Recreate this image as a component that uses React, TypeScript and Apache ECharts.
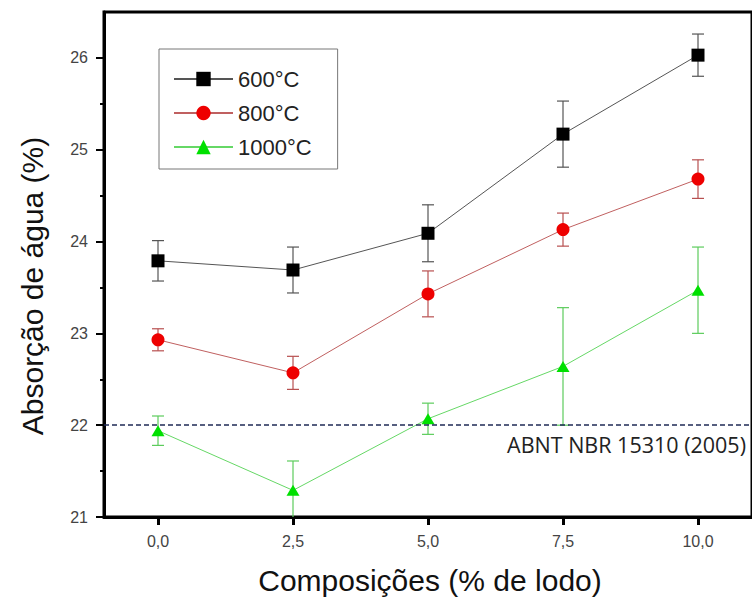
import React, { useEffect, useRef } from "react";
import * as echarts from "echarts";

// ---- data ----
const compositions = [0, 2.5, 5, 7.5, 10];
const xTickValues = [0, 2.5, 5, 7.5, 10];
const yTickValues = [21, 22, 23, 24, 25, 26];
const yMinorTickValues = [21.5, 22.5, 23.5, 24.5, 25.5];

const seriesNames = ["600°C", "800°C", "1000°C"];
const abs600 = [23.79, 23.69, 24.09, 25.17, 26.03];
const err600 = [0.22, 0.25, 0.31, 0.36, 0.23];
const abs800 = [22.93, 22.57, 23.43, 24.13, 24.68];
const err800 = [0.12, 0.18, 0.25, 0.18, 0.21];
const abs1000 = [21.94, 21.29, 22.07, 22.64, 23.47];
const err1000 = [0.16, 0.32, 0.17, 0.64, 0.47];

const normValue = 22;
const normLabel = "ABNT NBR 15310 (2005)";
const xAxisTitle = "Composições (% de lodo)";
const yAxisTitle = "Absorção de água (%)";

const FONT = "'Liberation Sans', Arial, sans-serif";

function lineSeries(name: string, values: number[], symbol: string, size: any, markerColor: string, lineColor: string, extra: any = {}) {
  return {
    type: "line",
    name,
    data: compositions.map((x, i) => [x, values[i]]),
    symbol,
    symbolSize: size,
    showAllSymbol: true,
    itemStyle: { color: markerColor, opacity: 1 },
    lineStyle: { color: lineColor, width: 1 },
    z: 3,
    ...extra,
  };
}

function errorSeries(name: string, values: number[], errs: number[], color: string) {
  return {
    type: "custom",
    name: name + " erro",
    data: compositions.map((x, i) => [x, values[i] - errs[i], values[i] + errs[i]]),
    encode: { x: 0, y: [1, 2] },
    clip: true,
    z: 1,
    renderItem: (params: any, api: any) => {
      const x = api.value(0);
      const lo = api.coord([x, api.value(1)]);
      const hi = api.coord([x, api.value(2)]);
      const w = 6;
      const style = { stroke: color, lineWidth: 1.2 };
      return {
        type: "group",
        children: [
          { type: "line", shape: { x1: lo[0], y1: lo[1], x2: hi[0], y2: hi[1] }, style },
          { type: "line", shape: { x1: hi[0] - w, y1: hi[1], x2: hi[0] + w, y2: hi[1] }, style },
          { type: "line", shape: { x1: lo[0] - w, y1: lo[1], x2: lo[0] + w, y2: lo[1] }, style },
        ],
      };
    },
  };
}

export default function App() {
  const ref = useRef<HTMLDivElement>(null);
  useEffect(() => {
    if (!ref.current) return;
    const chart = echarts.init(ref.current, null, { renderer: "svg" });
    chart.setOption({
      animation: false,
      backgroundColor: "#fff",
      grid: {
        left: 104,
        right: -11,
        top: 12,
        bottom: 81,
        show: true,
        borderColor: "#000",
        borderWidth: 3,
        backgroundColor: "transparent",
        containLabel: false,
      },
      legend: {
        data: seriesNames,
        orient: "vertical",
        left: 159,
        top: 49,
        padding: [19, 26, 11, 14],
        itemWidth: 59,
        itemHeight: 18,
        itemGap: 12,
        borderColor: "#777",
        borderWidth: 1,
        textStyle: { fontSize: 22, fontFamily: FONT, color: "#222" },
      },
      xAxis: {
        type: "value",
        min: -1,
        max: 11,
        axisLine: { show: true, onZero: false, lineStyle: { color: "#000", width: 3 } },
        axisTick: { show: true, customValues: xTickValues, length: 8, lineStyle: { color: "#000", width: 3 } },
        axisLabel: {
          customValues: xTickValues,
          margin: 16,
          fontSize: 16,
          fontFamily: FONT,
          color: "#444",
          formatter: (v: number) => v.toFixed(1).replace(".", ","),
        },
        splitLine: { show: false },
      },
      yAxis: [
        {
          type: "value",
          min: 21,
          max: 26.5,
          axisLine: { show: true, onZero: false, lineStyle: { color: "#000", width: 3 } },
          axisTick: { show: true, customValues: yTickValues, length: 8, lineStyle: { color: "#000", width: 2 } },
          axisLabel: {
            customValues: yTickValues,
            margin: 16,
            fontSize: 16,
            fontFamily: FONT,
            color: "#444",
          },
          splitLine: { show: false },
        },
        {
          type: "value",
          min: 21,
          max: 26.5,
          position: "left",
          axisLine: { show: false, onZero: false },
          axisTick: { show: true, customValues: yMinorTickValues, length: 4, lineStyle: { color: "#000", width: 2 } },
          axisLabel: { show: false },
          splitLine: { show: false },
        },
      ],
      graphic: [
        {
          type: "text",
          x: 32,
          y: 286,
          rotation: Math.PI / 2,
          style: {
            text: yAxisTitle,
            font: `30px ${FONT}`,
            fill: "#111",
            textAlign: "center",
            textVerticalAlign: "middle",
          },
        },
        {
          type: "text",
          x: 430,
          y: 580,
          style: {
            text: xAxisTitle,
            font: `30px ${FONT}`,
            fill: "#111",
            textAlign: "center",
            textVerticalAlign: "middle",
          },
        },
        {
          type: "text",
          x: 746,
          y: 444,
          style: {
            text: normLabel,
            font: `21.5px 'Open Sans', sans-serif`,
            fill: "#222",
            textAlign: "right",
            textVerticalAlign: "middle",
          },
        },
      ],
      series: [
        errorSeries(seriesNames[0], abs600, err600, "#555"),
        errorSeries(seriesNames[1], abs800, err800, "#b85050"),
        errorSeries(seriesNames[2], abs1000, err1000, "#5ccc5c"),
        lineSeries(seriesNames[0], abs600, "rect", 13, "#000", "#555", {
          markLine: {
            silent: true,
            symbol: "none",
            label: { show: false },
            lineStyle: { color: "#1f2a55", type: [5, 3], width: 1.5 },
            data: [{ yAxis: normValue }],
          },
        }),
        lineSeries(seriesNames[1], abs800, "circle", 13, "#ee0000", "#c06060"),
        lineSeries(seriesNames[2], abs1000, "triangle", [13, 11], "#00e000", "#66d866"),
      ],
    });
    return () => chart.dispose();
  }, []);
  return (
    <div
      ref={ref}
      style={{ position: "fixed", left: 0, top: 0, width: 752, height: 598, background: "#fff" }}
    />
  );
}
